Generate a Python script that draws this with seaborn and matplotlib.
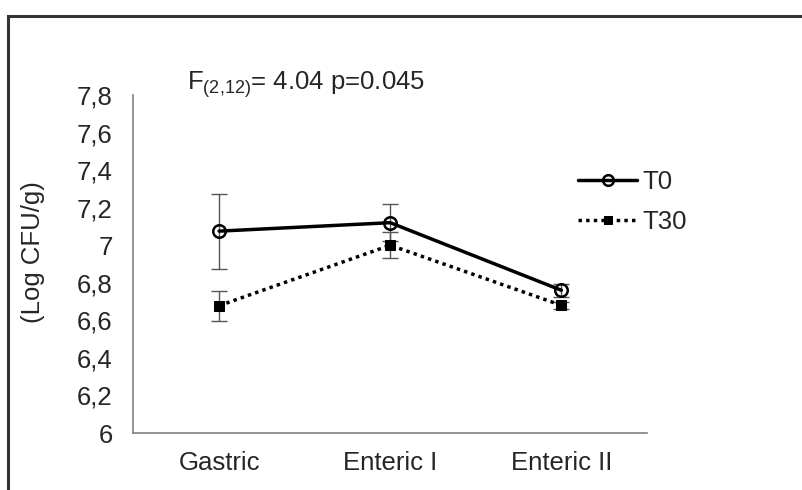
import matplotlib
matplotlib.use("Agg")
import matplotlib.pyplot as plt
import seaborn as sns
import pandas as pd
from matplotlib.patches import Rectangle

categories = ["Gastric", "Enteric I", "Enteric II"]
t0_values = [7.075, 7.12, 6.76]
t0_err = [0.20, 0.10, 0.035]
t30_values = [6.678, 7.0, 6.68]
t30_err = [0.08, 0.07, 0.02]
ytick_values = [6.0, 6.2, 6.4, 6.6, 6.8, 7.0, 7.2, 7.4, 7.6, 7.8]
ytick_labels = ["6", "6,2", "6,4", "6,6", "6,8", "7", "7,2", "7,4", "7,6", "7,8"]

sns.set_theme(style="white")
plt.rcParams["font.family"] = ["Liberation Sans", "DejaVu Sans"]
plt.rcParams["mathtext.fontset"] = "custom"
plt.rcParams["mathtext.rm"] = "Liberation Sans"
plt.rcParams["mathtext.it"] = "Liberation Sans"

FS = 18.5

fig = plt.figure(figsize=(8.03, 4.90), dpi=100)
ax = fig.add_axes([133.5 / 803, 57 / 490, (647 - 133.5) / 803, (433 - 95) / 490])

df0 = pd.DataFrame({"cat": categories, "val": t0_values})
df30 = pd.DataFrame({"cat": categories, "val": t30_values})

ax.errorbar(categories, t0_values, yerr=t0_err, fmt="none", ecolor="#555555",
            elinewidth=1.0, capsize=6, capthick=1.0, zorder=1)
ax.errorbar(categories, t30_values, yerr=t30_err, fmt="none", ecolor="#555555",
            elinewidth=1.0, capsize=6, capthick=1.0, zorder=1)

sns.lineplot(data=df30, x="cat", y="val", sort=False, ax=ax, color="black",
             linewidth=2.5, linestyle=(0, (1, 1.2)), marker="s", markersize=7.5,
             markerfacecolor="black", markeredgecolor="black", label="T30", zorder=3)
sns.lineplot(data=df0, x="cat", y="val", sort=False, ax=ax, color="black",
             linewidth=2.5, marker="o", markersize=9, markerfacecolor="none",
             markeredgecolor="black", markeredgewidth=1.8, label="T0", zorder=4)

ax.set_xlim(-0.5, 2.5)
ax.set_ylim(6.0, 7.8)
ax.set_yticks(ytick_values)
ax.set_yticklabels(ytick_labels, fontsize=FS)
ax.tick_params(axis="x", length=0, labelsize=FS, pad=13)
ax.tick_params(axis="y", direction="in", length=5, color="#808080", width=1, pad=15)
ax.set_xlabel("")
ax.set_ylabel("")
for s in ["top", "right"]:
    ax.spines[s].set_visible(False)
for s in ["left", "bottom"]:
    ax.spines[s].set_color("#808080")
    ax.spines[s].set_linewidth(1.2)

handles, labels = ax.get_legend_handles_labels()
order = [labels.index("T0"), labels.index("T30")]
leg = ax.legend([handles[i] for i in order], [labels[i] for i in order],
                frameon=False, fontsize=FS, handlelength=2.3, handletextpad=0.2,
                labelspacing=0.62, markerscale=0.85, borderpad=0, borderaxespad=0,
                loc="upper left", bbox_to_anchor=(578 / 803, 1 - 170 / 490),
                bbox_transform=fig.transFigure)

fig.text(33 / 803, 1 - 252 / 490, "(Log CFU/g)", rotation=90, fontsize=FS,
         ha="center", va="center")
fig.text(187 / 803, 1 - 90 / 490, r"F$_{\mathrm{(2{,}12)}}$= 4.04 p=0.045",
         fontsize=FS, ha="left", va="baseline")

fig.patches.append(Rectangle((8 / 803, -0.05), 1.0, 1 - 16 / 490 + 0.05,
                             transform=fig.transFigure, fill=False,
                             edgecolor="#333333", linewidth=2.2, clip_on=False))

fig.savefig("out.png", dpi=100)
